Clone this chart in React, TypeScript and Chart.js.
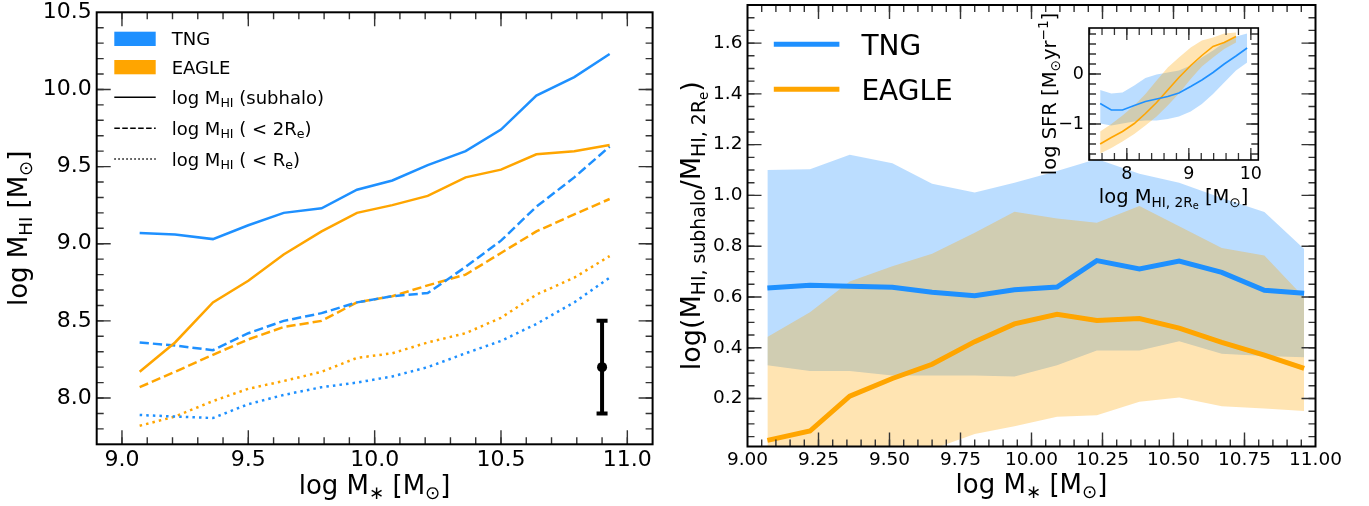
import React, { useEffect, useRef } from "react";
import { Chart, registerables } from "chart.js";

Chart.register(...registerables);

const FONT = '"DejaVu Sans", "Liberation Sans", sans-serif';
const BLUE = "#1E90FF";
const ORANGE = "#FFA500";
const BLUE_BAND = "rgba(30,144,255,0.3)";
const ORANGE_BAND = "rgba(255,165,0,0.3)";

// ---------- Left panel: log M_HI vs log M* ----------
const leftX = [9.07, 9.21, 9.36, 9.5, 9.64, 9.79, 9.93, 10.07, 10.21, 10.36, 10.5, 10.64, 10.79, 10.93];
const tngSubhalo = [9.07, 9.06, 9.03, 9.12, 9.2, 9.23, 9.35, 9.41, 9.51, 9.6, 9.74, 9.96, 10.08, 10.23];
const eagleSubhalo = [8.17, 8.36, 8.62, 8.76, 8.93, 9.08, 9.2, 9.25, 9.31, 9.43, 9.48, 9.58, 9.6, 9.64];
const tng2Re = [8.36, 8.34, 8.31, 8.42, 8.5, 8.55, 8.62, 8.66, 8.68, 8.85, 9.02, 9.24, 9.43, 9.63];
const eagle2Re = [8.07, 8.17, 8.28, 8.38, 8.46, 8.5, 8.62, 8.66, 8.73, 8.8, 8.94, 9.08, 9.19, 9.29];
const tngRe = [7.89, 7.88, 7.87, 7.96, 8.02, 8.07, 8.1, 8.14, 8.2, 8.29, 8.37, 8.48, 8.62, 8.78];
const eagleRe = [7.82, 7.88, 7.98, 8.06, 8.11, 8.17, 8.26, 8.29, 8.36, 8.42, 8.52, 8.67, 8.78, 8.92];
const errX = 10.9;
const errY = 8.2;
const errSize = 0.3;
const leftXTicks = [9.0, 9.5, 10.0, 10.5, 11.0];
const leftYTicks = [8.0, 8.5, 9.0, 9.5, 10.0, 10.5];

// ---------- Right panel: log(M_HI,subhalo / M_HI,2Re) ----------
const rightX = [9.07, 9.22, 9.36, 9.51, 9.65, 9.8, 9.94, 10.09, 10.23, 10.38, 10.52, 10.67, 10.82, 10.96];
const tngRatio = [0.635, 0.646, 0.642, 0.638, 0.619, 0.605, 0.628, 0.639, 0.743, 0.71, 0.741, 0.697, 0.626, 0.615];
const tngRatioHi = [1.1, 1.103, 1.16, 1.127, 1.046, 1.011, 1.05, 1.096, 1.143, 1.085, 1.05, 0.99, 0.935, 0.789];
const tngRatioLo = [0.331, 0.308, 0.308, 0.291, 0.291, 0.291, 0.287, 0.331, 0.389, 0.389, 0.426, 0.376, 0.367, 0.363];
const eagleRatio = [0.035, 0.072, 0.209, 0.279, 0.335, 0.424, 0.494, 0.532, 0.507, 0.515, 0.477, 0.421, 0.371, 0.319];
const eagleRatioHi = [0.442, 0.54, 0.661, 0.721, 0.77, 0.853, 0.936, 0.909, 0.892, 0.958, 0.879, 0.793, 0.763, 0.598];
const eagleRatioLo = [-0.16, -0.12, -0.08, -0.04, 0.0, 0.06, 0.091, 0.128, 0.134, 0.187, 0.204, 0.17, 0.161, 0.151];
const rightXTicks = [9.0, 9.25, 9.5, 9.75, 10.0, 10.25, 10.5, 10.75, 11.0];
const rightYTicks = [0.2, 0.4, 0.6, 0.8, 1.0, 1.2, 1.4, 1.6];

// ---------- Inset: log SFR vs log M_HI,2Re ----------
const insetX = [7.57, 7.75, 7.93, 8.12, 8.3, 8.48, 8.66, 8.84, 9.03, 9.21, 9.39, 9.57, 9.76, 9.94];
const tngSfr = [-0.59, -0.72, -0.72, -0.63, -0.55, -0.5, -0.45, -0.38, -0.25, -0.12, 0.03, 0.2, 0.36, 0.52];
const tngSfrHi = [-0.32, -0.39, -0.37, -0.23, -0.08, -0.01, 0.03, 0.07, 0.17, 0.33, 0.47, 0.63, 0.75, 0.81];
const tngSfrLo = [-0.99, -1.03, -0.99, -0.95, -0.93, -0.93, -0.9, -0.85, -0.75, -0.6, -0.4, -0.17, 0.07, 0.23];
const eagleSfr = [-1.4, -1.27, -1.15, -0.99, -0.79, -0.57, -0.32, -0.07, 0.17, 0.37, 0.55, 0.63, 0.75];
const eagleSfrHi = [-1.15, -1.0, -0.83, -0.63, -0.4, -0.13, 0.13, 0.33, 0.53, 0.67, 0.73, 0.81, 0.83];
const eagleSfrLo = [-1.59, -1.48, -1.35, -1.2, -1.03, -0.85, -0.63, -0.39, -0.1, 0.15, 0.33, 0.5, 0.63];
const insetXTicks = [8, 9, 10];
const insetYTicks = [-1, 0];

// ---------- helpers ----------
type Seg = { t: string; lvl?: number; sup?: boolean };

function segSize(size: number, s: Seg) {
  if (s.sup) return size * 0.7;
  if (s.lvl === 1) return size * 0.7;
  if (s.lvl === 2) return size * 0.5;
  return size;
}
function segDy(size: number, s: Seg) {
  if (s.sup) return -0.42 * size;
  if (s.lvl === 1) return 0.2 * size;
  if (s.lvl === 2) return 0.3 * size;
  return 0;
}
function richWidth(ctx: CanvasRenderingContext2D, segs: Seg[], size: number) {
  let w = 0;
  for (const s of segs) {
    ctx.font = `${segSize(size, s)}px ${FONT}`;
    w += ctx.measureText(s.t).width;
  }
  return w;
}
function drawRich(
  ctx: CanvasRenderingContext2D,
  segs: Seg[],
  x: number,
  y: number,
  size: number,
  align: "left" | "center" = "left"
) {
  const w = richWidth(ctx, segs, size);
  let cx = align === "center" ? x - w / 2 : x;
  ctx.fillStyle = "#000";
  ctx.textAlign = "left";
  ctx.textBaseline = "alphabetic";
  for (const s of segs) {
    ctx.font = `${segSize(size, s)}px ${FONT}`;
    ctx.fillText(s.t, cx, y + segDy(size, s));
    cx += ctx.measureText(s.t).width;
  }
}
function drawRichRotated(ctx: CanvasRenderingContext2D, segs: Seg[], xBase: number, yCenter: number, size: number) {
  ctx.save();
  ctx.translate(xBase, yCenter);
  ctx.rotate(-Math.PI / 2);
  drawRich(ctx, segs, 0, 0, size, "center");
  ctx.restore();
}

function range(a: number, b: number, step: number) {
  const out: number[] = [];
  const n = Math.round((b - a) / step);
  for (let i = 0; i <= n; i++) out.push(+(a + i * step).toFixed(4));
  return out;
}

function pts(xs: number[], ys: number[]) {
  return ys.map((y, i) => ({ x: xs[i], y }));
}

interface DecorCfg {
  xMajor: number[];
  xMinor: number[];
  yMajor: number[];
  yMinor: number[];
  majorLen: number;
  minorLen: number;
  tickWidth: number;
  frameWidth: number;
  background?: string;
  extra?: (ctx: CanvasRenderingContext2D, chart: any) => void;
}

function makeDecor(cfg: DecorCfg) {
  return {
    id: "decor",
    beforeDatasetsDraw(chart: any) {
      if (!cfg.background) return;
      const { left, top, right, bottom } = chart.chartArea;
      const ctx = chart.ctx;
      ctx.save();
      ctx.fillStyle = cfg.background;
      ctx.fillRect(left, top, right - left, bottom - top);
      ctx.restore();
    },
    afterDraw(chart: any) {
      const ctx: CanvasRenderingContext2D = chart.ctx;
      const a = chart.chartArea;
      const xs = chart.scales.x;
      const ys = chart.scales.y;
      ctx.save();
      ctx.strokeStyle = "#333";
      ctx.lineWidth = cfg.tickWidth;
      ctx.setLineDash([]);
      const drawX = (vals: number[], len: number) => {
        for (const v of vals) {
          const px = xs.getPixelForValue(v);
          if (px <= a.left + 0.5 || px >= a.right - 0.5) continue;
          ctx.beginPath();
          ctx.moveTo(px, a.bottom);
          ctx.lineTo(px, a.bottom - len);
          ctx.moveTo(px, a.top);
          ctx.lineTo(px, a.top + len);
          ctx.stroke();
        }
      };
      const drawY = (vals: number[], len: number) => {
        for (const v of vals) {
          const py = ys.getPixelForValue(v);
          if (py <= a.top + 0.5 || py >= a.bottom - 0.5) continue;
          ctx.beginPath();
          ctx.moveTo(a.left, py);
          ctx.lineTo(a.left + len, py);
          ctx.moveTo(a.right, py);
          ctx.lineTo(a.right - len, py);
          ctx.stroke();
        }
      };
      drawX(cfg.xMinor, cfg.minorLen);
      drawX(cfg.xMajor, cfg.majorLen);
      drawY(cfg.yMinor, cfg.minorLen);
      drawY(cfg.yMajor, cfg.majorLen);
      ctx.strokeStyle = "#000";
      ctx.lineWidth = cfg.frameWidth;
      ctx.strokeRect(a.left, a.top, a.right - a.left, a.bottom - a.top);
      if (cfg.extra) cfg.extra(ctx, chart);
      ctx.restore();
    },
  };
}

function axis(
  min: number,
  max: number,
  ticks: number[],
  fmt: (v: number) => string,
  fontSize: number,
  pad: number,
  fitSize: number,
  horizontal: boolean
) {
  return {
    type: "linear",
    min,
    max,
    afterBuildTicks: (s: any) => {
      s.ticks = ticks.map((v) => ({ value: v }));
    },
    ticks: {
      callback: (v: any) => fmt(Number(v)),
      font: { size: fontSize, family: FONT },
      color: "#000",
      padding: pad,
      autoSkip: false,
      maxRotation: 0,
      minRotation: 0,
    },
    grid: { display: false, drawTicks: false },
    border: { display: false },
    afterFit: (s: any) => {
      if (horizontal) s.height = fitSize;
      else s.width = fitSize;
      s.paddingLeft = 0;
      s.paddingRight = 0;
      s.paddingTop = 0;
      s.paddingBottom = 0;
    },
  };
}

function lineDs(xs: number[], ys: number[], color: string, width: number, dash: number[] = [], order = 0) {
  return {
    data: pts(xs, ys),
    borderColor: color,
    borderWidth: width,
    borderDash: dash,
    pointRadius: 0,
    fill: false,
    tension: 0,
    order,
  };
}
function bandDs(xs: number[], hi: number[], lo: number[], color: string, order: number) {
  return [
    {
      data: pts(xs, hi),
      borderColor: "rgba(0,0,0,0)",
      borderWidth: 0,
      pointRadius: 0,
      backgroundColor: color,
      fill: "+1",
      tension: 0,
      order,
    },
    {
      data: pts(xs, lo),
      borderColor: "rgba(0,0,0,0)",
      borderWidth: 0,
      pointRadius: 0,
      fill: false,
      tension: 0,
      order,
    },
  ];
}

const baseOptions = {
  responsive: false,
  animation: false,
  devicePixelRatio: 1,
  events: [],
  plugins: { legend: { display: false }, tooltip: { enabled: false } },
};

const fmt1 = (v: number) => v.toFixed(1);
const fmt2 = (v: number) => v.toFixed(2);
const fmtInt = (v: number) => (v < 0 ? "\u2212" + Math.abs(v) : String(v));

const MSTAR_TITLE: Seg[] = [{ t: "log M" }, { t: "\u2217", lvl: 1 }, { t: " [M" }, { t: "\u2299", lvl: 1 }, { t: "]" }];

function leftConfig(): any {
  const decor = makeDecor({
    xMajor: leftXTicks,
    xMinor: range(8.9, 11.1, 0.1),
    yMajor: leftYTicks,
    yMinor: range(7.7, 10.5, 0.1),
    majorLen: 14,
    minorLen: 7,
    tickWidth: 1.4,
    frameWidth: 2,
    extra: (ctx) => {
      // axis titles
      drawRichRotated(
        ctx,
        [{ t: "log M" }, { t: "HI", lvl: 1 }, { t: " [M" }, { t: "\u2299", lvl: 1 }, { t: "]" }],
        26.5,
        228.3,
        26
      );
      drawRich(ctx, MSTAR_TITLE, 374.6, 494, 26, "center");
      // legend
      ctx.fillStyle = BLUE;
      ctx.fillRect(114.3, 31.7, 41.4, 14.3);
      ctx.fillStyle = ORANGE;
      ctx.fillRect(114.3, 60, 41.4, 14.3);
      ctx.strokeStyle = "#000";
      ctx.lineWidth = 1.5;
      const legLine = (y: number, dash: number[]) => {
        ctx.setLineDash(dash);
        ctx.beginPath();
        ctx.moveTo(114.3, y);
        ctx.lineTo(155.7, y);
        ctx.stroke();
      };
      legLine(97.3, []);
      legLine(128.3, [5.55, 2.4]);
      legLine(159, [1.5, 2.5]);
      ctx.setLineDash([]);
      drawRich(ctx, [{ t: "TNG" }], 171.7, 45, 18);
      drawRich(ctx, [{ t: "EAGLE" }], 171.7, 74.3, 18);
      drawRich(ctx, [{ t: "log M" }, { t: "HI", lvl: 1 }, { t: " (subhalo)" }], 171.7, 103.8, 18);
      drawRich(ctx, [{ t: "log M" }, { t: "HI", lvl: 1 }, { t: " ( < 2R" }, { t: "e", lvl: 1 }, { t: ")" }], 171.7, 134.8, 18);
      drawRich(ctx, [{ t: "log M" }, { t: "HI", lvl: 1 }, { t: " ( < R" }, { t: "e", lvl: 1 }, { t: ")" }], 171.7, 165.5, 18);
    },
  });
  return {
    type: "line",
    data: {
      datasets: [
        lineDs(leftX, tngSubhalo, BLUE, 2.5),
        lineDs(leftX, eagleSubhalo, ORANGE, 2.5),
        lineDs(leftX, tng2Re, BLUE, 2.5, [9.25, 4]),
        lineDs(leftX, eagle2Re, ORANGE, 2.5, [9.25, 4]),
        lineDs(leftX, tngRe, BLUE, 2.5, [2.5, 4.1]),
        lineDs(leftX, eagleRe, ORANGE, 2.5, [2.5, 4.1]),
        {
          data: [
            { x: errX, y: errY - errSize },
            { x: errX, y: errY + errSize },
          ],
          borderColor: "#000",
          borderWidth: 4,
          pointStyle: "line",
          pointRadius: 5.5,
          pointBorderWidth: 4,
          pointBorderColor: "#000",
          fill: false,
        },
        {
          data: [{ x: errX, y: errY }],
          showLine: false,
          pointRadius: 5,
          pointBackgroundColor: "#000",
          pointBorderColor: "#000",
          pointBorderWidth: 0,
        },
      ],
    },
    options: {
      ...baseOptions,
      layout: { padding: { left: 0, top: 12.3, right: 680 - 652.6, bottom: 0 } },
      scales: {
        x: axis(8.9, 11.1, leftXTicks, fmt1, 22, 3, 506 - 444.3, true),
        y: axis(7.7, 10.5, leftYTicks, fmt1, 22, 5, 96.7, false),
      },
    },
    plugins: [decor],
  };
}

function rightConfig(): any {
  const OFF = 680;
  const decor = makeDecor({
    xMajor: rightXTicks,
    xMinor: range(9.0, 11.0, 0.05),
    yMajor: rightYTicks,
    yMinor: range(0.05, 1.75, 0.05),
    majorLen: 14,
    minorLen: 7,
    tickWidth: 1.4,
    frameWidth: 2,
    extra: (ctx) => {
      drawRichRotated(
        ctx,
        [
          { t: "log(M" },
          { t: "HI, subhalo", lvl: 1 },
          { t: "/M" },
          { t: "HI, 2R", lvl: 1 },
          { t: "e", lvl: 2 },
          { t: ")" },
        ],
        700 - OFF,
        225.7,
        27
      );
      drawRich(ctx, MSTAR_TITLE, 1031.5 - OFF, 492.5, 26, "center");
      ctx.lineWidth = 5;
      ctx.setLineDash([]);
      ctx.strokeStyle = BLUE;
      ctx.beginPath();
      ctx.moveTo(773.8 - OFF, 44.3);
      ctx.lineTo(839.4 - OFF, 44.3);
      ctx.stroke();
      ctx.strokeStyle = ORANGE;
      ctx.beginPath();
      ctx.moveTo(773.8 - OFF, 89.3);
      ctx.lineTo(839.4 - OFF, 89.3);
      ctx.stroke();
      drawRich(ctx, [{ t: "TNG" }], 861.4 - OFF, 54.5, 28);
      drawRich(ctx, [{ t: "EAGLE" }], 861.4 - OFF, 100, 28);
    },
  });
  return {
    type: "line",
    data: {
      datasets: [
        lineDs(rightX, tngRatio, BLUE, 5, [], 0),
        lineDs(rightX, eagleRatio, ORANGE, 5, [], 0),
        ...bandDs(rightX, tngRatioHi, tngRatioLo, BLUE_BAND, 2),
        ...bandDs(rightX, eagleRatioHi, eagleRatioLo, ORANGE_BAND, 1),
      ],
    },
    options: {
      ...baseOptions,
      layout: { padding: { left: 0, top: 5, right: 1369 - 1315.5, bottom: 0 } },
      scales: {
        x: axis(9.0, 11.0, rightXTicks, fmt2, 18.5, 3, 506 - 446.5, true),
        y: axis(0.011, 1.75, rightYTicks, fmt1, 18.5, 5, 747.5 - OFF, false),
      },
    },
    plugins: [decor],
  };
}

function insetConfig(): any {
  const OFF = 1020;
  const decor = makeDecor({
    xMajor: insetXTicks,
    xMinor: range(7.4, 10.0, 0.2),
    yMajor: insetYTicks,
    yMinor: range(-1.6, 0.8, 0.2),
    majorLen: 12,
    minorLen: 7,
    tickWidth: 1.3,
    frameWidth: 1.6,
    background: "#fff",
    extra: (ctx) => {
      drawRich(
        ctx,
        [{ t: "log M" }, { t: "HI, 2R", lvl: 1 }, { t: "e", lvl: 2 }, { t: " [M" }, { t: "\u2299", lvl: 1 }, { t: "]" }],
        1173.6 - OFF,
        203.3,
        19.5,
        "center"
      );
      drawRichRotated(
        ctx,
        [{ t: "log SFR [M" }, { t: "\u2299", lvl: 1 }, { t: "yr" }, { t: "\u22121", sup: true }, { t: "]" }],
        1056 - OFF,
        94,
        19.5
      );
    },
  });
  return {
    type: "line",
    data: {
      datasets: [
        lineDs(insetX, tngSfr, BLUE, 1.6, [], 0),
        lineDs(insetX, eagleSfr, ORANGE, 1.6, [], 0),
        ...bandDs(insetX, tngSfrHi, tngSfrLo, BLUE_BAND, 2),
        ...bandDs(insetX, eagleSfrHi, eagleSfrLo, ORANGE_BAND, 1),
      ],
    },
    options: {
      ...baseOptions,
      layout: { padding: { left: 0, top: 28, right: 1310 - 1258.3, bottom: 0 } },
      scales: {
        x: axis(7.39, 10.12, insetXTicks, fmtInt, 17.5, 4, 215 - 160, true),
        y: axis(-1.72, 0.92, insetYTicks, fmtInt, 17.5, 5, 1089 - OFF, false),
      },
    },
    plugins: [decor],
  };
}

export default function App() {
  const leftRef = useRef<HTMLCanvasElement>(null);
  const rightRef = useRef<HTMLCanvasElement>(null);
  const insetRef = useRef<HTMLCanvasElement>(null);

  useEffect(() => {
    const charts = [
      new Chart(leftRef.current as HTMLCanvasElement, leftConfig()),
      new Chart(rightRef.current as HTMLCanvasElement, rightConfig()),
      new Chart(insetRef.current as HTMLCanvasElement, insetConfig()),
    ];
    return () => charts.forEach((c) => c.destroy());
  }, []);

  return (
    <div
      style={{
        position: "absolute",
        left: 0,
        top: 0,
        width: 1369,
        height: 506,
        background: "#fff",
        overflow: "hidden",
      }}
    >
      <canvas ref={leftRef} width={680} height={506} style={{ position: "absolute", left: 0, top: 0, width: 680, height: 506 }} />
      <canvas ref={rightRef} width={689} height={506} style={{ position: "absolute", left: 680, top: 0, width: 689, height: 506 }} />
      <canvas ref={insetRef} width={290} height={215} style={{ position: "absolute", left: 1020, top: 0, width: 290, height: 215 }} />
    </div>
  );
}
